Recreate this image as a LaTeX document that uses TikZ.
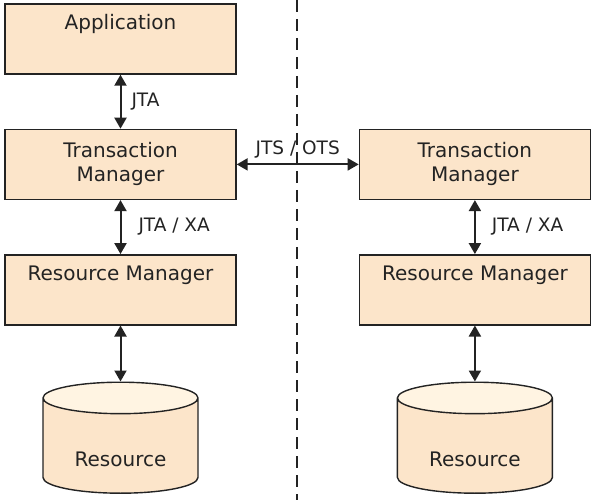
\documentclass[tikz,border=0pt]{standalone}
\usepackage{fontspec}
\setmainfont{DejaVu Sans}
\usetikzlibrary{arrows.meta, positioning, shapes.geometric}
\definecolor{peach}{RGB}{252,229,202}
\definecolor{cream}{RGB}{255,244,226}
\definecolor{edge}{RGB}{35,35,35}

\begin{document}
\begin{tikzpicture}[
  node distance=54pt and 122pt,
  box/.style={draw=edge, line width=1.4pt, fill=peach, minimum width=231pt, minimum height=70pt,
              align=center, text=edge, font=\fontsize{20}{24}\selectfont},
  topbox/.style={box, text depth=34pt},
  db/.style={cylinder, shape border rotate=90, aspect=0.32, draw=edge, line width=1.4pt,
             cylinder uses custom fill, cylinder body fill=peach, cylinder end fill=cream,
             minimum width=155pt, minimum height=111pt, text height=36pt, text=edge,
             font=\fontsize{20}{24}\selectfont},
  arr/.style={{Triangle[length=11pt,width=12pt]}-{Triangle[length=11pt,width=12pt]}, line width=2pt, draw=edge},
  lbl/.style={font=\fontsize{18.5}{22}\selectfont, text=edge, inner sep=0pt}
]
  \useasboundingbox (0,0) rectangle (595pt,-500pt);
  \draw[edge, line width=1.4pt, dash pattern=on 12pt off 7pt] (297pt,0) coordinate (top) -- (297pt,-500pt) coordinate (bot);

  \node[topbox] (app) at (120.5pt,-39pt) {Application};
  \node[box, below=of app] (tmL) {Transaction\\Manager};
  \node[topbox, below=of tmL] (rmL) {Resource Manager};
  \node[db, below=56pt of rmL] (resL) {Resource};

  \node[box, right=of tmL] (tmR) {Transaction\\Manager};
  \node[topbox, below=of tmR] (rmR) {Resource Manager};
  \node[db, below=56pt of rmR] (resR) {Resource};

  \draw[arr] (app) -- node[lbl, right=10pt] {JTA} (tmL);
  \draw[arr] (tmL) -- node[lbl, right=17pt] {JTA / XA} (rmL);
  \draw[arr] (rmL) -- (resL);
  \draw[arr] (tmL) -- node[lbl, above=5pt] {JTS / OTS} (tmR);
  \draw[arr] (tmR) -- node[lbl, right=16pt] {JTA / XA} (rmR);
  \draw[arr] (rmR) -- (resR);
\end{tikzpicture}
\end{document}
